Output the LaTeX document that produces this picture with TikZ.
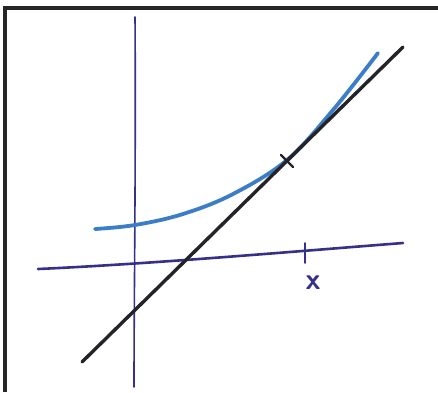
\documentclass[tikz,border=0pt]{standalone}
\usetikzlibrary{calc}
\definecolor{axisblue}{RGB}{52,48,140}
\definecolor{curveblue}{RGB}{60,125,200}
\definecolor{pen}{RGB}{35,35,40}
\tikzset{
  frameline/.style={draw=black!85, line width=3.2pt},
  axisline/.style={draw=axisblue, line width=1.6pt, line cap=round},
  xaxisline/.style={draw=axisblue, line width=2.6pt, line cap=round},
  curveline/.style={draw=curveblue, line width=3.8pt, line cap=round, line join=round},
  blackline/.style={draw=pen, line width=3.4pt, line cap=round},
  tickline/.style={draw=axisblue, line width=1.8pt, line cap=round},
  lbl/.style={text=axisblue, font=\sffamily\bfseries\fontsize{30}{30}\selectfont, inner sep=0pt}
}
\begin{document}
\begin{tikzpicture}[x=1pt,y=-1pt]
\useasboundingbox (0,0) rectangle (438,392);
\fill[white] (0,0) rectangle (438,392);
% frame (left and top edges)
\coordinate (fTL) at (5,8);
\coordinate (fTR) at (438,8);
\coordinate (fBL) at (5,392);
\draw[frameline] (fBL) -- (fTL) -- (fTR);
% vertical axis
\coordinate (vTop) at (135,17);
\coordinate (vBot) at (134,387);
\draw[axisline] (vTop) .. controls (136,150) and (134,300) .. (vBot);
% horizontal axis
\coordinate (hL) at (38,269);
\coordinate (hR) at (403,243);
\draw[xaxisline] (hL) .. controls (150,264) and (300,251) .. (hR);
% tick on x axis and label
\coordinate (tkA) at (305,243);
\coordinate (tkB) at (305,263);
\draw[tickline] (tkA) -- (tkB);
\node[lbl] (xl) at (313,283) {x};
% blue curve
\draw[curveline] plot[smooth, tension=0.6] coordinates
  {(95,229) (135,225) (183,214) (233,194) (287,160) (333,110) (378,53)};
% black line
\coordinate (b0) at (82,362);
\coordinate (b1) at (403,47);
\draw[blackline] (b0) -- (b1);
% tick on black line
\coordinate (bt) at (287,161);
\draw[draw=pen, line width=2.2pt, line cap=round] ($(bt)+(-6,-6)$) -- ($(bt)+(6,6)$);
\end{tikzpicture}
\end{document}
